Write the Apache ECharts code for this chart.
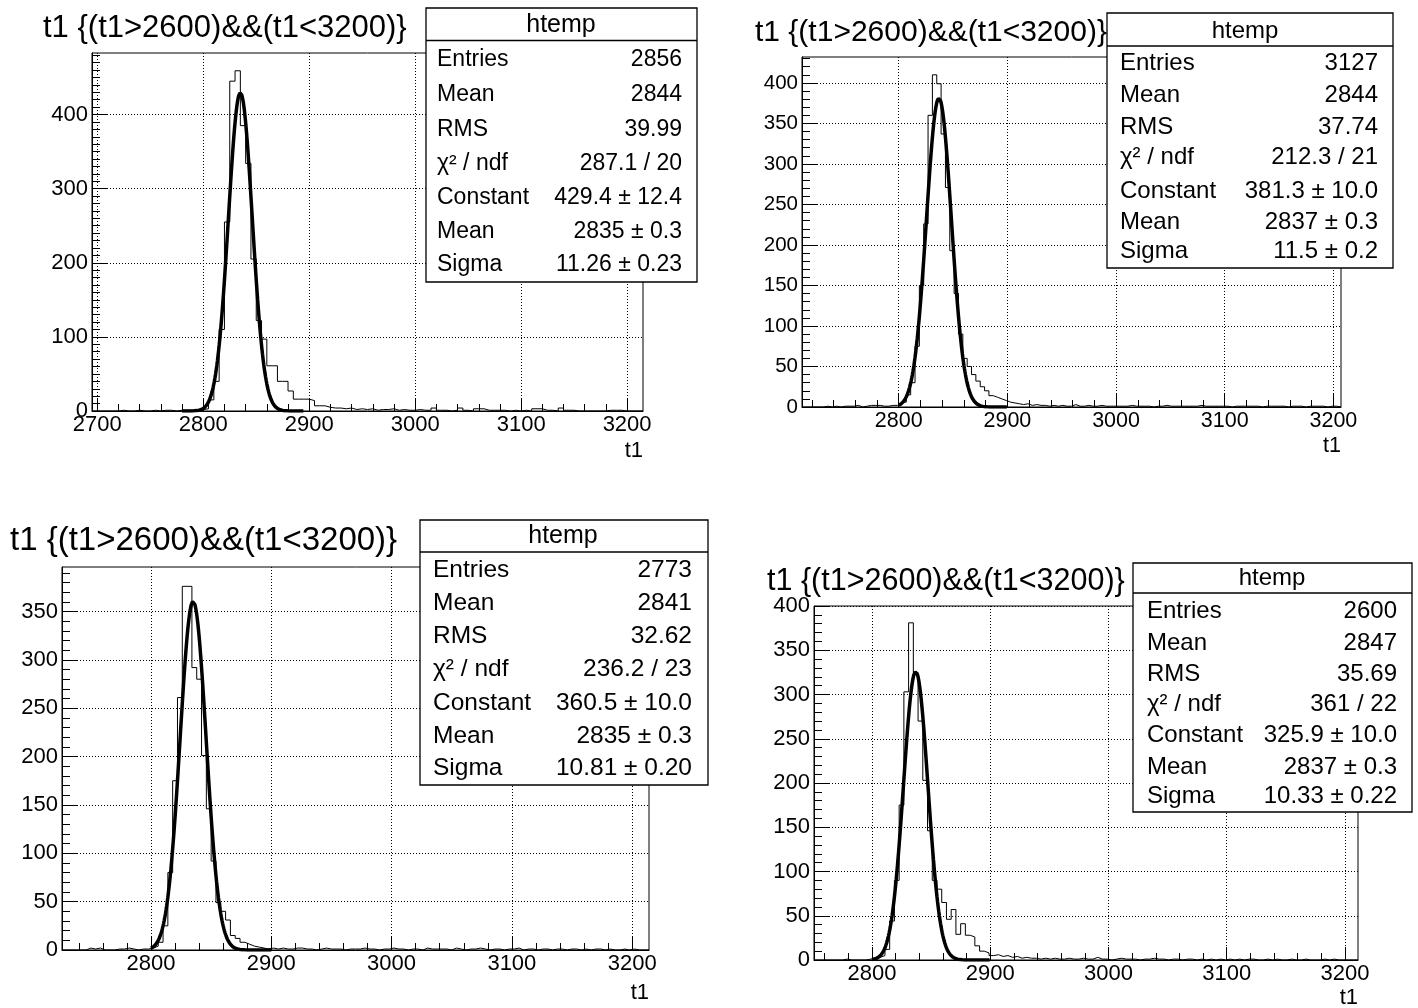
<!DOCTYPE html>
<html><head><meta charset="utf-8">
<script src="https://cdn.jsdelivr.net/npm/echarts@6/dist/echarts.min.js"></script>
<style>html,body{margin:0;padding:0;background:#fff;}#c{width:1418px;height:1008px;}</style>
</head><body><div id="c"></div>
<script>
// ---------------- data ----------------
const plotTitle = 't1 {(t1>2600)&&(t1<3200)}';
const boxTitle = 'htemp';
const axisTitle = 't1';
const statLabels = ['Entries', 'Mean', 'RMS', 'χ² / ndf', 'Constant', 'Mean', 'Sigma'];

// panel 1 (top left)
const p1Range = [2695, 3215];
const p1BinWidth = 5;
const p1Counts = [
  0,0,0,0,0, 1,0,0,1,0, 0,1,0,1,1, 0,1,1,1,2,
  2,3,15,40,110, 255,445,459,385,334, 205,122,97,61,61, 40,40,27,16,16,
  16,14,7,7,5, 4,4,3,4,2, 3,2,3,1,2, 2,3,1,2,1,
  1,2,1,1,4, 1,1,0,1,4, 1,0,3,3,1, 1,1,1,0,1,
  0,1,0,3,3, 1,1,0,4,1, 1,0,0,0,0, 0,0,1,1,1,
  0,0,0,0];
const p1Stats = ['2856', '2844', '39.99', '287.1 / 20', '429.4 ± 12.4', '2835 ± 0.3', '11.26 ± 0.23'];
const p1Fit = [429.4, 2835, 11.26];
const p1FitRange = [2780, 2895];
const p1XTicks = [2700, 2800, 2900, 3000, 3100, 3200];
const p1YTicks = [0, 100, 200, 300, 400];
const p1YMax = 483;

// panel 2 (top right)
const p2Range = [2711, 3207];
const p2BinWidth = 4;
const p2Counts = [
  0,0,0,0,0, 1,0,1,0,1, 1,1,2,0,1, 2,2,2,1,1, 2,2,
  3,6,15,30,75,150,226,360,410,399,337,271,193,140,90,60,50,40,32,25,20,14,12,10,8,6,
  5,4,3,4,2, 3,2,2,1,2, 1,2,1,1,3, 1,1,2,1,1, 2,1,1,1,1, 1,1,2,1,1,
  1,1,0,1,1, 2,1,1,1,1, 1,1,1,2,1, 1,1,1,1,1, 0,1,1,1,1, 1,1,0,1,1,
  1,1,1,0,1, 1,1,0,1,1, 1,1,0,1,1, 0];
const p2Stats = ['3127', '2844', '37.74', '212.3 / 21', '381.3 ± 10.0', '2837 ± 0.3', '11.5 ± 0.2'];
const p2Fit = [381.3, 2837, 11.5];
const p2FitRange = [2800, 2900];
const p2XTicks = [2800, 2900, 3000, 3100, 3200];
const p2YTicks = [0, 50, 100, 150, 200, 250, 300, 350, 400];
const p2YMax = 432;

// panel 3 (bottom left)
const p3Range = [2726, 3214];
const p3BinWidth = 4;
const p3Counts = [
  0,0,0,0,0, 2,1,2,0,0, 0,1,1,2,1, 0,1,1,
  2,4,8,25,80,175,261,376,376,292,280,201,146,92,49,40,31,15,12,8,6,4,3,2,1,
  2,1,2,1,1, 2,2,1,1,0, 1,2,1,1,1, 0,1,1,1,2, 1,1,0,1,1, 2,1,1,0,1,
  1,0,2,1,1, 1,1,0,2,1, 0,1,1,2,1, 0,1,1,0,1, 1,2,0,1,1, 0,1,1,0,1,
  1,0,1,1,0, 1,0,1,1,0, 1,0,0,1,0, 1,0,0,0];
const p3Stats = ['2773', '2841', '32.62', '236.2 / 23', '360.5 ± 10.0', '2835 ± 0.3', '10.81 ± 0.20'];
const p3Fit = [360.5, 2835, 10.81];
const p3FitRange = [2800, 2900];
const p3XTicks = [2800, 2900, 3000, 3100, 3200];
const p3YTicks = [0, 50, 100, 150, 200, 250, 300, 350];
const p3YMax = 396;

// panel 4 (bottom right)
const p4Range = [2751, 3211];
const p4BinWidth = 4;
const p4Counts = [
  0,0,0,0,0,0,1,0,0,0,0,1,
  2,3,5,12,44,90,175,303,381,325,270,203,146,90,80,65,46,57,29,41,28,26,16,10,8,5,
  6,4,5,3,4, 2,3,2,2,1, 2,1,2,1,1, 2,1,1,2,1, 1,3,1,1,0, 1,2,1,1,1,
  0,1,1,2,1, 1,0,1,1,0, 1,1,0,1,0, 1,0,1,0,1, 0,1,0,1,1, 0,0,1,0,1,
  0,0,1,0,0, 1,0,0,0,1, 0,1,0,0,0, 0,0];
const p4Stats = ['2600', '2847', '35.69', '361 / 22', '325.9 ± 10.0', '2837 ± 0.3', '10.33 ± 0.22'];
const p4Fit = [325.9, 2837, 10.33];
const p4FitRange = [2800, 2900];
const p4XTicks = [2800, 2900, 3000, 3100, 3200];
const p4YTicks = [0, 50, 100, 150, 200, 250, 300, 350, 400];
const p4YMax = 400;

const xMinorStep = 20;
const yMinorStep = 10;

// ---------------- layout / style ----------------
const FONT = '"Liberation Sans", Arial, Helvetica, sans-serif';
const layouts = [
  {grid:{left:92, top:53, width:551, height:358}, title:{x:43, y:28, fs:31},
   box:{x1:426, y1:8, x2:697, y2:282, hl:40.5, hy:25, hx:561, hfs:25, fs:23, lx:437, vx:682, rows:[60,95,129.5,163.5,197.5,231.5,265]},
   xFs:22, yFs:22, t1:{x:643, y:451}},
  {grid:{left:802, top:57, width:539, height:350}, title:{x:755, y:33, fs:30},
   box:{x1:1107, y1:13, x2:1393, y2:268, hl:46, hy:31, hx:1245, hfs:24, fs:24, lx:1120, vx:1378, rows:[63,95,127,157,191,222,251]},
   xFs:21.5, yFs:20.5, t1:{x:1341, y:446}},
  {grid:{left:62, top:567, width:587, height:383}, title:{x:10, y:541, fs:33},
   box:{x1:420, y1:520, x2:708, y2:785, hl:552, hy:536, hx:563, hfs:25, fs:24.5, lx:433, vx:692, rows:[570,603,636,669,703,736,768]},
   xFs:22, yFs:22, t1:{x:649, y:993}},
  {grid:{left:814, top:606, width:544, height:354}, title:{x:767, y:582, fs:30.5},
   box:{x1:1133, y1:563, x2:1412, y2:812, hl:593, hy:578, hx:1272, hfs:24, fs:24, lx:1147, vx:1397, rows:[611,643,674,704,735,767,796]},
   xFs:22, yFs:22, t1:{x:1358, y:998}}
];

const panels = [
  {range:p1Range, bw:p1BinWidth, counts:p1Counts, stats:p1Stats, fit:p1Fit, fitRange:p1FitRange, xt:p1XTicks, yt:p1YTicks, ymax:p1YMax},
  {range:p2Range, bw:p2BinWidth, counts:p2Counts, stats:p2Stats, fit:p2Fit, fitRange:p2FitRange, xt:p2XTicks, yt:p2YTicks, ymax:p2YMax},
  {range:p3Range, bw:p3BinWidth, counts:p3Counts, stats:p3Stats, fit:p3Fit, fitRange:p3FitRange, xt:p3XTicks, yt:p3YTicks, ymax:p3YMax},
  {range:p4Range, bw:p4BinWidth, counts:p4Counts, stats:p4Stats, fit:p4Fit, fitRange:p4FitRange, xt:p4XTicks, yt:p4YTicks, ymax:p4YMax}
];

function multiples(lo, hi, step) {
  const out = [];
  for (let v = Math.ceil(lo / step) * step; v <= hi + 1e-9; v += step) out.push(v);
  return out;
}
function histPoints(x0, bw, counts) {
  const pts = counts.map((c, i) => [x0 + i * bw, c]);
  pts.push([x0 + counts.length * bw, counts[counts.length - 1]]);
  return pts;
}
// gaus fit function drawn with the fitted parameters from the stats box
function fitPoints(par, range) {
  const pts = [], n = 200;
  for (let i = 0; i <= n; i++) {
    const x = range[0] + (range[1] - range[0]) * i / n;
    const z = (x - par[1]) / par[2];
    pts.push([x, par[0] * Math.exp(-0.5 * z * z)]);
  }
  return pts;
}
const plain = v => String(Math.round(v));

const grid = [], xAxis = [], yAxis = [], series = [], graphic = [];
panels.forEach((p, i) => {
  const L = layouts[i];
  grid.push(Object.assign({show:true, borderColor:'#000', borderWidth:1, backgroundColor:'transparent'}, L.grid));
  xAxis.push({type:'value', gridIndex:i, min:p.range[0], max:p.range[1], position:'bottom',
    axisLine:{show:true, onZero:false, lineStyle:{color:'#000', width:1}},
    axisTick:{show:true, inside:true, length:13, customValues:p.xt, lineStyle:{color:'#000', width:1}},
    axisLabel:{margin:3, customValues:p.xt, formatter:plain, color:'#000', fontFamily:FONT, fontSize:L.xFs},
    splitLine:{show:true, lineStyle:{color:'#000', width:1, type:[1,2]}}});
  xAxis.push({type:'value', gridIndex:i, min:p.range[0], max:p.range[1], position:'bottom', offset:0,
    axisLine:{show:false}, axisLabel:{show:false}, splitLine:{show:false},
    axisTick:{show:true, inside:true, length:7, customValues:multiples(p.range[0], p.range[1], xMinorStep), lineStyle:{color:'#000', width:1}}});
  yAxis.push({type:'value', gridIndex:i, min:0, max:p.ymax, position:'left',
    axisLine:{show:true, onZero:false, lineStyle:{color:'#000', width:1}},
    axisTick:{show:true, inside:true, length:16, customValues:p.yt, lineStyle:{color:'#000', width:1}},
    axisLabel:{margin:4, customValues:p.yt, formatter:plain, color:'#000', fontFamily:FONT, fontSize:L.yFs},
    splitLine:{show:true, lineStyle:{color:'#000', width:1, type:[1,2]}}});
  yAxis.push({type:'value', gridIndex:i, min:0, max:p.ymax, position:'left', offset:0,
    axisLine:{show:false}, axisLabel:{show:false}, splitLine:{show:false},
    axisTick:{show:true, inside:true, length:8, customValues:multiples(0, p.ymax, yMinorStep), lineStyle:{color:'#000', width:1}}});
  series.push({type:'line', xAxisIndex:2*i, yAxisIndex:2*i, step:'end', symbol:'none', silent:true,
    lineStyle:{color:'#000', width:1}, data:histPoints(p.range[0], p.bw, p.counts), z:3});
  series.push({type:'line', xAxisIndex:2*i, yAxisIndex:2*i, symbol:'none', silent:true, smooth:false,
    lineStyle:{color:'#000', width:3.5}, data:fitPoints(p.fit, p.fitRange), z:4});

  graphic.push({type:'text', x:L.title.x, y:L.title.y, z:10,
    style:{text:plotTitle, fontFamily:FONT, fontSize:L.title.fs, fill:'#000', align:'left', verticalAlign:'middle'}});
  graphic.push({type:'text', x:L.t1.x, y:L.t1.y, z:10,
    style:{text:axisTitle, fontFamily:FONT, fontSize:L.xFs, fill:'#000', align:'right', verticalAlign:'middle'}});
  const B = L.box;
  graphic.push({type:'rect', z:20, shape:{x:B.x1, y:B.y1, width:B.x2 - B.x1, height:B.y2 - B.y1},
    style:{fill:'#fff', stroke:'#000', lineWidth:1.3}});
  graphic.push({type:'line', z:21, shape:{x1:B.x1, y1:B.hl, x2:B.x2, y2:B.hl}, style:{stroke:'#000', lineWidth:1.3}});
  graphic.push({type:'text', z:22, x:B.hx, y:B.hy,
    style:{text:boxTitle, fontFamily:FONT, fontSize:B.hfs, fill:'#000', align:'center', verticalAlign:'middle'}});
  statLabels.forEach((s, r) => {
    graphic.push({type:'text', z:22, x:B.lx, y:B.rows[r],
      style:{text:s, fontFamily:FONT, fontSize:B.fs, fill:'#000', align:'left', verticalAlign:'middle'}});
    graphic.push({type:'text', z:22, x:B.vx, y:B.rows[r],
      style:{text:p.stats[r], fontFamily:FONT, fontSize:B.fs, fill:'#000', align:'right', verticalAlign:'middle'}});
  });
});

const chart = echarts.init(document.getElementById('c'), null, {renderer:'canvas'});
chart.setOption({animation:false, backgroundColor:'#fff', grid, xAxis, yAxis, series, graphic});
</script>
</body></html>
